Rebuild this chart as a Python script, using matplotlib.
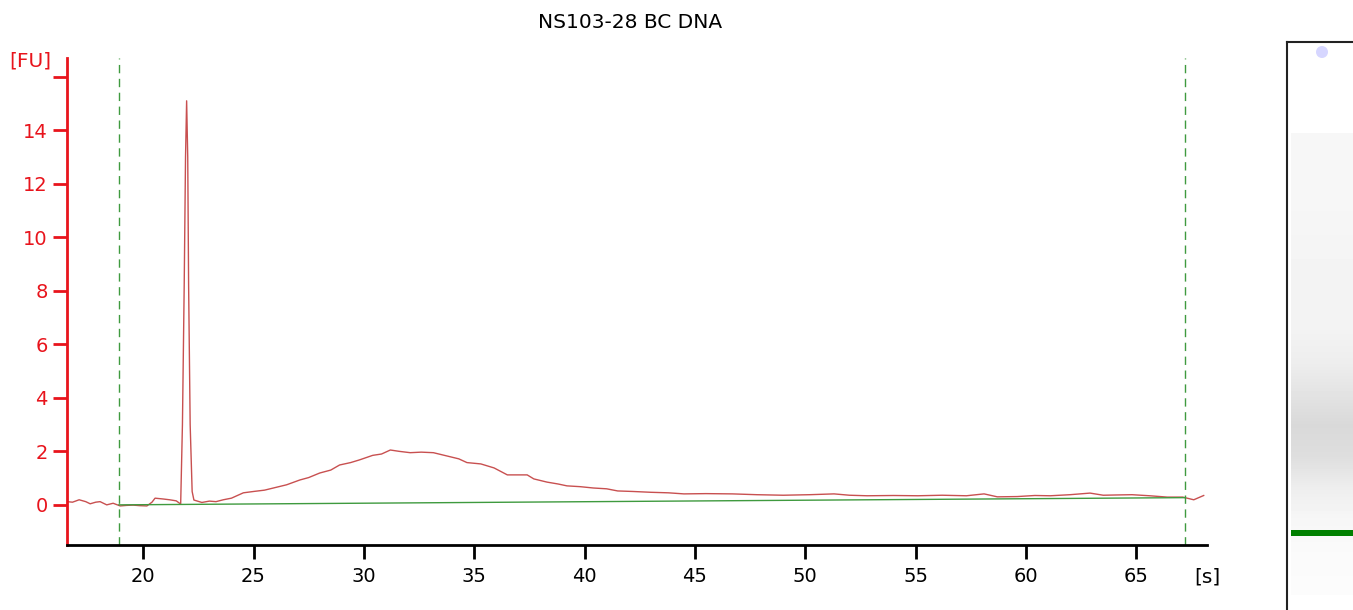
import numpy as np
import matplotlib
matplotlib.use('Agg')
import matplotlib.pyplot as plt
from matplotlib.patches import Circle

# electropherogram trace
time_s = [16.55, 16.8, 17.1, 17.4, 17.6, 17.85, 18.05, 18.35, 18.64, 18.96, 19.25, 19.55, 19.85,
          20.17, 20.4, 20.54, 20.9, 21.2, 21.5, 21.70, 21.78, 21.86, 21.92, 21.97, 22.02, 22.06,
          22.13, 22.22, 22.3, 22.66, 23.0, 23.3, 23.63, 24.0, 24.54, 25.0, 25.5, 25.9, 26.5, 27.1,
          27.5, 28.0, 28.5, 28.9, 29.4, 29.8, 30.4, 30.8, 31.2, 31.6, 32.1, 32.6, 33.15, 33.5,
          33.9, 34.3, 34.67, 35.3, 35.9, 36.5, 37.0, 37.4, 37.7, 38.3, 38.8, 39.2, 39.8, 40.4,
          41.0, 41.5, 42.2, 43.0, 43.8, 44.5, 45.5, 46.7, 47.8, 49.0, 50.2, 51.3, 52.0, 52.8,
          54.0, 55.1, 56.2, 57.3, 58.1, 58.7, 59.6, 60.4, 61.1, 62.0, 62.9, 63.5, 64.1, 64.8,
          65.6, 66.4, 67.1, 67.6, 68.05]
fu = [0.12, 0.1, 0.19, 0.12, 0.04, 0.1, 0.12, 0.0, 0.06, -0.04, -0.02, -0.01, -0.03,
      -0.04, 0.1, 0.25, 0.22, 0.19, 0.15, 0.03, 3.0, 8.2, 13.0, 15.1, 13.0, 8.2,
      3.0, 0.5, 0.18, 0.09, 0.14, 0.12, 0.19, 0.25, 0.45, 0.5, 0.55, 0.63, 0.75, 0.93,
      1.02, 1.19, 1.3, 1.49, 1.58, 1.68, 1.85, 1.9, 2.05, 2.0, 1.95, 1.97, 1.95, 1.88,
      1.8, 1.72, 1.58, 1.53, 1.38, 1.12, 1.12, 1.12, 0.97, 0.85, 0.78, 0.71, 0.68, 0.63,
      0.6, 0.52, 0.5, 0.47, 0.45, 0.41, 0.42, 0.41, 0.38, 0.36, 0.38, 0.41, 0.36, 0.34,
      0.35, 0.34, 0.36, 0.34, 0.41, 0.3, 0.31, 0.35, 0.34, 0.38, 0.44, 0.36, 0.37, 0.38,
      0.34, 0.29, 0.29, 0.19, 0.35]

# baseline and integration window
baseline_t = [18.9, 67.2]
baseline_fu = [0.0, 0.27]
window = [18.9, 67.2]

x_ticks = [20, 25, 30, 35, 40, 45, 50, 55, 60, 65]
y_ticks = [0, 2, 4, 6, 8, 10, 12, 14, 16]
y_labels = ['0', '2', '4', '6', '8', '10', '12', '14', '']

# gel lane grey levels, top to bottom, and band position (pixel rows of the lane)
lane_grey = [0.965, 0.965, 0.965, 0.96, 0.955, 0.955, 0.95, 0.93, 0.89, 0.85, 0.87,
             0.93, 0.965, 0.98, 0.985]
band_row = 491

W, H = 1353, 610
fig = plt.figure(figsize=(W / 100, H / 100), dpi=100)
red = '#e8141c'

ax = fig.add_axes([67 / W, 1 - 545 / H, (1207 - 67) / W, (545 - 58) / H])
ax.plot(time_s, fu, color='#c85050', lw=1.0)
ax.plot(baseline_t, baseline_fu, color='#3f9a3f', lw=1.0)
for t in window:
    ax.axvline(t, color='#3f9a3f', lw=1.0, linestyle=(0, (6, 4)))

ax.set_xlim(16.55, 68.2)
ax.set_ylim(-1.5, 16.7)
ax.set_xticks(x_ticks)
ax.set_yticks(y_ticks)
ax.set_yticklabels(y_labels)

for s in ['top', 'right']:
    ax.spines[s].set_visible(False)
ax.spines['left'].set_color(red)
ax.spines['left'].set_linewidth(2)
ax.spines['bottom'].set_color('black')
ax.spines['bottom'].set_linewidth(2)
ax.tick_params(axis='y', colors=red, length=10, width=2, pad=4, labelsize=14)
ax.tick_params(axis='x', colors='black', length=10, width=2, pad=6, labelsize=14)

fig.text(630 / W, 1 - 22 / H, 'NS103-28 BC DNA', ha='center', va='center', fontsize=14.5)
fig.text(30 / W, 1 - 61 / H, '[FU]', ha='center', va='center', fontsize=14.5, color=red)
fig.text(1207 / W, 1 - 577 / H, '[s]', ha='center', va='center', fontsize=14.5)

# gel lane image on the right
gx = fig.add_axes([1287 / W, 0, 66 / W, 568 / H])
img = np.array(lane_grey).reshape(-1, 1)
gx.imshow(img, cmap='gray', vmin=0, vmax=1, aspect='auto', interpolation='bilinear',
          extent=[4, 66, 553, 91])
gx.set_xlim(0, 66)
gx.set_ylim(568, 0)
gx.fill_between([4, 66], band_row - 3, band_row + 3, color='#008000', lw=0)
gx.add_patch(Circle((35, 10), 6, color='#d6d6ff', lw=0))
gx.set_xticks([])
gx.set_yticks([])
for s in ['right', 'bottom']:
    gx.spines[s].set_visible(False)
for s in ['left', 'top']:
    gx.spines[s].set_color('#222222')
    gx.spines[s].set_linewidth(1.5)

fig.savefig('out.png', dpi=100)
